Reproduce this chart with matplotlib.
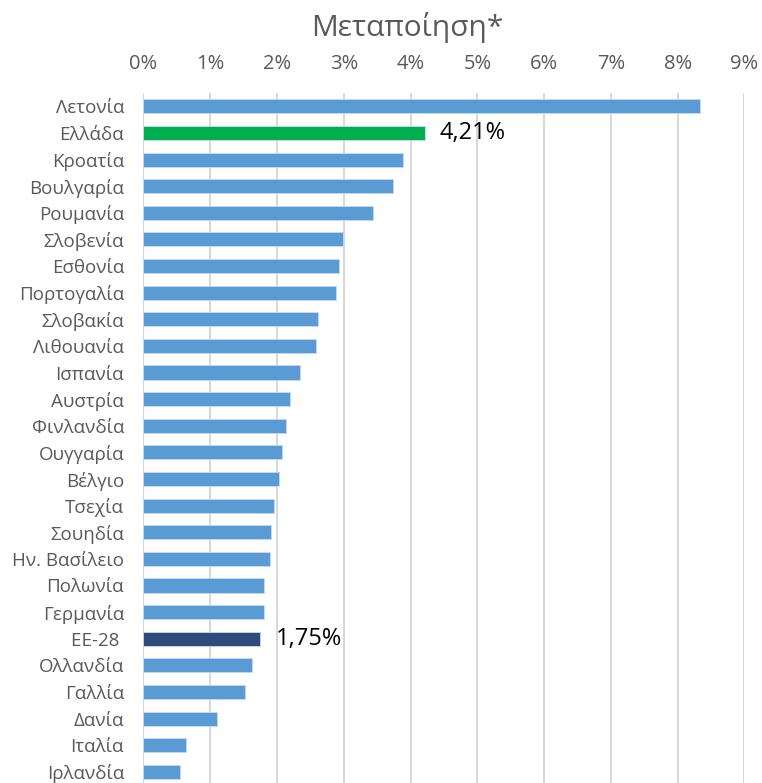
import matplotlib.pyplot as plt

plt.rcParams["font.family"] = ["Open Sans", "DejaVu Sans"]

# Μεταποίηση - μερίδιο (%)
countries = [
    "Λετονία", "Ελλάδα", "Κροατία", "Βουλγαρία", "Ρουμανία", "Σλοβενία",
    "Εσθονία", "Πορτογαλία", "Σλοβακία", "Λιθουανία", "Ισπανία", "Αυστρία",
    "Φινλανδία", "Ουγγαρία", "Βέλγιο", "Τσεχία", "Σουηδία", "Ην. Βασίλειο",
    "Πολωνία", "Γερμανία", "ΕΕ-28 ", "Ολλανδία", "Γαλλία", "Δανία",
    "Ιταλία", "Ιρλανδία",
]
values = [
    8.34, 4.21, 3.88, 3.74, 3.44, 2.99,
    2.93, 2.89, 2.61, 2.58, 2.35, 2.19,
    2.14, 2.08, 2.03, 1.96, 1.91, 1.90,
    1.81, 1.80, 1.75, 1.63, 1.52, 1.10,
    0.64, 0.54,
]
highlight = {"Ελλάδα": "#00b050", "ΕΕ-28 ": "#2f4b7c"}
labelled = ["Ελλάδα", "ΕΕ-28 "]
xticks = list(range(0, 10))

fig = plt.figure(figsize=(7.62, 7.83), dpi=100)
ax = fig.add_axes([0.1883, 0.0, 0.7887, 0.8812])

colors = [highlight.get(c, "#5b9bd5") for c in countries]
ypos = list(range(len(countries)))
bars = ax.barh(ypos, values, height=0.53, color=colors,
               edgecolor="#c5dcf0", linewidth=0.6, zorder=3)

for bar, c, v in zip(bars, countries, values):
    if c in labelled:
        ax.annotate(f"{v:.2f}%".replace(".", ","),
                    (bar.get_width(), bar.get_y() + bar.get_height() / 2),
                    xytext=(11, 0), textcoords="offset points",
                    va="center", ha="left", fontsize=17, color="black")

ax.set_xlim(0, 9)
ax.set_ylim(25.42, -0.5)
ax.set_yticks(ypos)
ax.set_yticklabels(countries, fontsize=13.5, color="#595959")
ax.set_xticks(xticks)
ax.set_xticklabels([f"{t}%" for t in xticks], fontsize=14.5, color="#595959")
ax.xaxis.tick_top()
ax.tick_params(axis="x", length=0, pad=14)
ax.tick_params(axis="y", length=0, pad=14)
ax.grid(axis="x", color="#d9d9d9", linewidth=1.5, zorder=0)
for s in ax.spines.values():
    s.set_visible(False)

fig.text(0.534, 0.965, "Μεταποίηση*",
         ha="center", va="center", fontsize=21.5, color="#595959")

fig.savefig("out.png", dpi=100)
